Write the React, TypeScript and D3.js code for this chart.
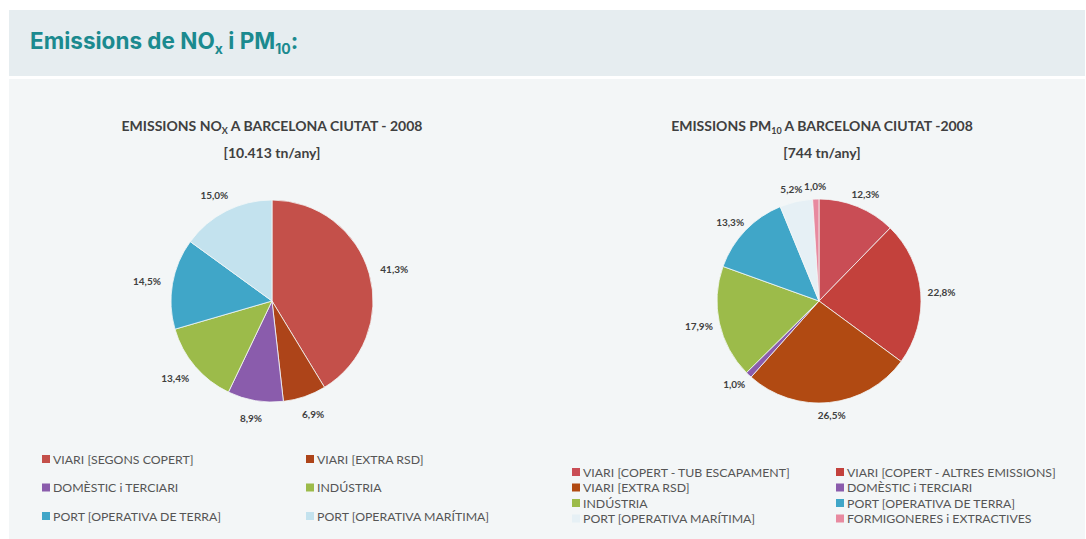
import React from "react";
import * as d3 from "d3";

// ---- Data ----
const noxCategories = [
  "VIARI [SEGONS COPERT]",
  "VIARI [EXTRA RSD]",
  "DOMÈSTIC i TERCIARI",
  "INDÚSTRIA",
  "PORT [OPERATIVA DE TERRA]",
  "PORT [OPERATIVA MARÍTIMA]",
];
const noxValues = [41.3, 6.9, 8.9, 13.4, 14.5, 15.0];
const noxColors = ["#c4504a", "#ad4419", "#8a5cac", "#9cbb4a", "#40a6c8", "#c3e2ee"];

const pmCategories = [
  "VIARI [COPERT - TUB ESCAPAMENT]",
  "VIARI [COPERT - ALTRES EMISSIONS]",
  "VIARI [EXTRA RSD]",
  "DOMÈSTIC i TERCIARI",
  "INDÚSTRIA",
  "PORT [OPERATIVA DE TERRA]",
  "PORT [OPERATIVA MARÍTIMA]",
  "FORMIGONERES i EXTRACTIVES",
];
const pmValues = [12.3, 22.8, 26.5, 1.0, 17.9, 13.3, 5.2, 1.0];
const pmColors = ["#c94d55", "#c3413c", "#b14a12", "#8a5cac", "#9cbb4a", "#40a6c8", "#e6f0f5", "#e88aa0"];

const FONT = "Lato, 'Open Sans', sans-serif";
const TXT = "#404040";

const fmt = (v: number) => v.toFixed(1).replace(".", ",") + "%";

function Pie({ cx, cy, r, values, colors, gap }: { cx: number; cy: number; r: number; values: number[]; colors: string[]; gap: number }) {
  const pie = d3.pie<number>().sort(null).value((d) => d);
  const arcs = pie(values);
  const arc = d3.arc<d3.PieArcDatum<number>>().innerRadius(0).outerRadius(r);
  const halfW = 14;
  const halfH = 6;
  return (
    <g transform={`translate(${cx},${cy})`}>
      {arcs.map((a, i) => (
        <path key={i} d={arc(a) || ""} fill={colors[i]} stroke="#f4f7f8" strokeWidth={0.8} />
      ))}
      {arcs.map((a, i) => {
        const mid = (a.startAngle + a.endAngle) / 2;
        const s = Math.sin(mid);
        const c = Math.cos(mid);
        const x = (r + gap) * s + s * halfW;
        const y = -(r + gap) * c - c * halfH;
        return (
          <text
            key={"l" + i}
            x={x}
            y={y}
            textAnchor="middle"
            dominantBaseline="central"
            fontFamily={FONT}
            fontWeight={700}
            fontSize={10}
            fill={TXT}
          >
            {fmt(values[i])}
          </text>
        );
      })}
    </g>
  );
}

function Legend({ x0, x1, y0, dy, items, colors, size }: { x0: number; x1: number; y0: number; dy: number; items: string[]; colors: string[]; size: number }) {
  return (
    <g>
      {items.map((t, i) => {
        const col = i % 2;
        const row = Math.floor(i / 2);
        const x = col === 0 ? x0 : x1;
        const y = y0 + row * dy;
        return (
          <g key={i}>
            <rect x={x} y={y - 4} width={8} height={8} fill={colors[i]} />
            <text x={x + 11} y={y} dominantBaseline="central" fontFamily={FONT} fontSize={size} fill="#555">
              {t}
            </text>
          </g>
        );
      })}
    </g>
  );
}

export default function App() {
  return (
    <div style={{ position: "fixed", left: 0, top: 0 }}>
      <svg width={1086} height={539} style={{ display: "block" }}>
        <rect x={0} y={0} width={1086} height={539} fill="#ffffff" />
        <rect x={9} y={10} width={1076} height={66} fill="#e6edf0" />
        <rect x={9} y={79} width={1076} height={460} fill="#f3f6f7" />
        <text x={30} y={49} fontFamily="Inter, Roboto, sans-serif" fontWeight={700} fontSize={22.5} fill="#1b8a8f">
          <tspan>Emissions de NO</tspan>
          <tspan fontSize={14} dy={5}>x</tspan>
          <tspan dy={-5}> i PM</tspan>
          <tspan fontSize={14} dy={5}>10</tspan>
          <tspan dy={-5}>:</tspan>
        </text>

        {/* NOx chart */}
        <text x={272} y={131} textAnchor="middle" fontFamily={FONT} fontWeight={700} fontSize={14} fill={TXT}>
          <tspan>EMISSIONS NO</tspan>
          <tspan fontSize={9} dy={3}>X</tspan>
          <tspan dy={-3}> A BARCELONA CIUTAT - 2008</tspan>
        </text>
        <text x={272} y={158} textAnchor="middle" fontFamily={FONT} fontWeight={700} fontSize={14} fill={TXT}>
          [10.413 tn/any]
        </text>
        <Pie cx={272} cy={301} r={101} values={noxValues} colors={noxColors} gap={12} />
        <Legend x0={42} x1={306} y0={459} dy={28.5} items={noxCategories} colors={noxColors} size={12.3} />

        {/* PM10 chart */}
        <text x={822} y={131} textAnchor="middle" fontFamily={FONT} fontWeight={700} fontSize={14} fill={TXT}>
          <tspan>EMISSIONS PM</tspan>
          <tspan fontSize={9} dy={3}>10</tspan>
          <tspan dy={-3}> A BARCELONA CIUTAT -2008</tspan>
        </text>
        <text x={822} y={158} textAnchor="middle" fontFamily={FONT} fontWeight={700} fontSize={14} fill={TXT}>
          [744 tn/any]
        </text>
        <Pie cx={819} cy={301} r={102} values={pmValues} colors={pmColors} gap={7} />
        <Legend x0={572} x1={836} y0={472} dy={15.5} items={pmCategories} colors={pmColors} size={12.3} />
      </svg>
    </div>
  );
}
